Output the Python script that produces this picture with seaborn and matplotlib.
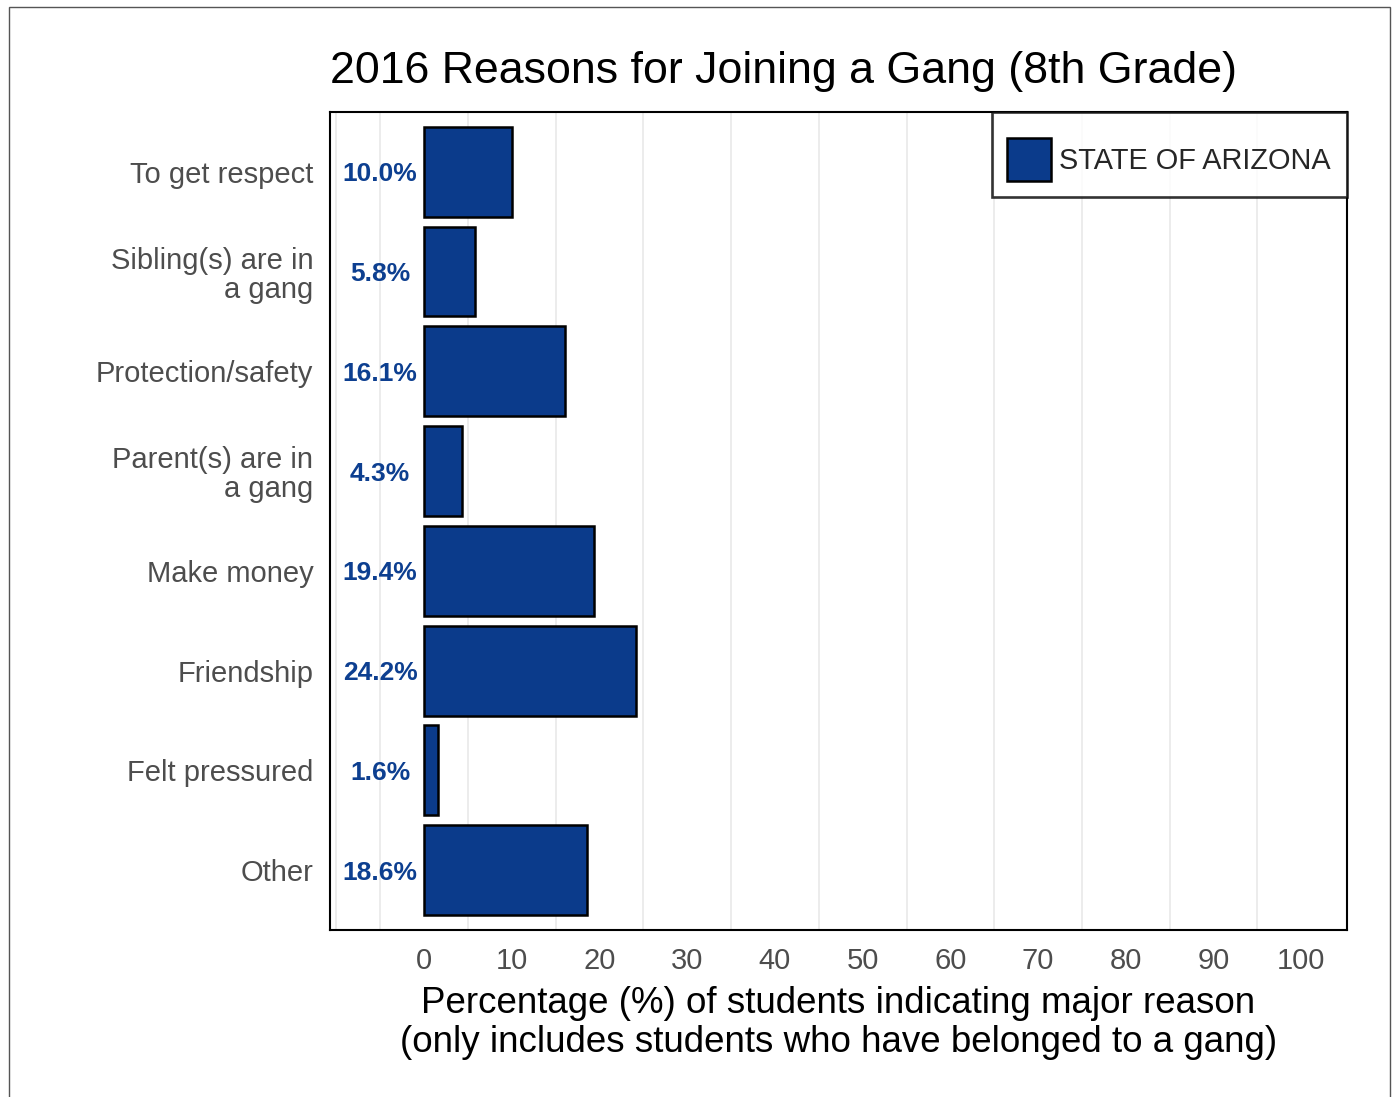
import numpy as np
import pandas as pd
import matplotlib
matplotlib.use("Agg")
import matplotlib.pyplot as plt
from matplotlib.patches import Rectangle
import seaborn as sns

# Survey results: share of 8th graders citing each reason
reasons = [
    "To get respect",
    "Sibling(s) are in\na gang",
    "Protection/safety",
    "Parent(s) are in\na gang",
    "Make money",
    "Friendship",
    "Felt pressured",
    "Other",
]
percentages = [10.0, 5.8, 16.1, 4.3, 19.4, 24.2, 1.6, 18.6]
group_name = "STATE OF ARIZONA"
x_ticks = [0, 10, 20, 30, 40, 50, 60, 70, 80, 90, 100]

bar_color = "#0B3B8B"
label_color = "#0D3F90"
tick_gray = "#4D4D4D"

df = pd.DataFrame({"reason": reasons, "pct": percentages, "group": group_name})

sns.set_theme(style="white")
plt.rcParams["font.family"] = ["Liberation Sans", "DejaVu Sans"]

fig = plt.figure(figsize=(13.94, 10.97), dpi=100)
ax = fig.add_axes([330 / 1394, 1 - 930 / 1097, (1347 - 330) / 1394, (930 - 112) / 1097])

sns.barplot(
    data=df, x="pct", y="reason", hue="group", palette=[bar_color],
    orient="h", width=0.9, edgecolor="black", linewidth=1.8,
    dodge=False, saturation=1, ax=ax,
)

# Percent labels to the left of each bar
for i, v in enumerate(percentages):
    ax.text(-5, i, f"{v:.1f}%", ha="center", va="center_baseline",
            fontsize=19, fontweight="bold", color=label_color)

ax.set_xlim(-10.7, 105.2)
ax.set_ylim(7.6, -0.6)
ax.set_xticks(x_ticks)
ax.set_xticklabels([str(t) for t in x_ticks])
ax.set_xticks([-10, -5] + list(range(5, 100, 10)), minor=True)
ax.grid(False)
ax.grid(True, which="minor", axis="x", color="#EBEBEB", linewidth=1.3)
ax.set_axisbelow(True)

ax.tick_params(axis="both", which="major", length=7, width=1.4, color="#333333",
               labelsize=21, labelcolor=tick_gray, pad=5)
ax.tick_params(axis="x", which="minor", length=0)
for lbl in ax.get_yticklabels():
    lbl.set_linespacing(1.05)

for s in ax.spines.values():
    s.set_visible(True)
    s.set_color("black")
    s.set_linewidth(1.5)

ax.set_ylabel("")
ax.set_xlabel("Percentage (%) of students indicating major reason\n"
              "(only includes students who have belonged to a gang)",
              fontsize=26.5, color="black", linespacing=1.15, labelpad=8)

# Blank title line leaves a little extra room above the legend key
leg = ax.legend(loc="upper right", bbox_to_anchor=(1.0, 1.0), borderaxespad=0,
                title=" ", title_fontsize=7, labelspacing=0,
                fontsize=20.8, handlelength=1.5, handleheight=1.9,
                handletextpad=0.3, borderpad=0.55, fancybox=False, frameon=True)
leg.get_frame().set_edgecolor("black")
leg.get_frame().set_linewidth(1.9)
for h in leg.legend_handles:
    h.set_edgecolor("black")
    h.set_linewidth(1.8)

fig.text(330 / 1394, 1 - 83 / 1097, "2016 Reasons for Joining a Gang (8th Grade)",
         fontsize=32.2, color="black", ha="left", va="baseline")

# Thin frame around the whole figure
fig.patches.append(Rectangle((9 / 1394, -0.01), (1390 - 9) / 1394, 1.01 - 7 / 1097,
                             transform=fig.transFigure, fill=False,
                             edgecolor="#555555", linewidth=1.0))

fig.savefig("out.png", dpi=100)
